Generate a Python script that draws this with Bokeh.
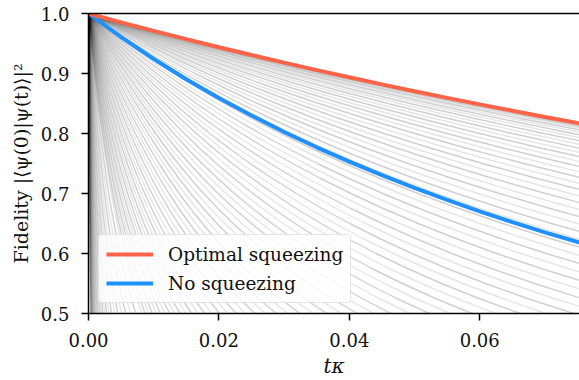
from bokeh.plotting import figure
from bokeh.models import (Range1d, FixedTicker, LinearAxis, Legend, LegendItem,
                          NumeralTickFormatter)
from bokeh.embed import file_html
from bokeh.resources import INLINE

# ---------------- data ----------------
# sample times (t*kappa) for the two highlighted curves
t_samples = [0, 0.005, 0.01, 0.015, 0.02, 0.025, 0.03, 0.035, 0.04, 0.045,
             0.05, 0.055, 0.06, 0.065, 0.07, 0.0755]
optimal_fidelity = [1.0, 0.9853, 0.9711, 0.9573, 0.9438, 0.9308, 0.9181, 0.9057,
                    0.8937, 0.8819, 0.8705, 0.8594, 0.8485, 0.8380, 0.8276, 0.8166]
nosqueeze_fidelity = [1.0, 0.9606, 0.9242, 0.8905, 0.8591, 0.8299, 0.8026, 0.7770,
                      0.7530, 0.7305, 0.7092, 0.6892, 0.6702, 0.6523, 0.6353, 0.6176]

# gray family: decay rate of each thin curve (level reached at t = profile_time / rate)
gray_rates = [
    2.971, 2.982, 3.003, 3.036, 3.079, 3.133, 3.199, 3.276, 3.365, 3.466,
    3.579, 3.706, 3.845, 3.999, 4.167, 4.350, 4.548, 4.763, 4.995, 5.246,
    5.515, 5.803, 6.113, 6.445, 6.800, 7.180, 7.585, 8.018, 8.479, 8.971,
    9.495, 10.05, 10.65, 11.28, 11.96, 12.67, 13.44, 14.25, 15.11, 16.02,
    17.00, 18.03, 19.14, 20.30, 21.55, 22.87, 24.27, 25.76, 27.34, 29.02,
    30.81, 32.70, 34.72, 36.86, 39.13, 41.54, 44.10, 46.83, 49.72, 52.78,
    56.04, 59.50, 63.18, 67.08, 71.23, 75.63, 80.30, 85.26, 90.53, 96.13,
    102.1, 108.4, 115.1,
    122.2, 137.7, 155.3, 175.1, 197.4, 222.6, 251.0, 283.0, 319.1, 359.8,
    405.6, 457.3, 515.7, 581.4, 655.5, 739.1, 833.3, 939.6, 1059, 1194,
    1347, 1518, 1712, 1930, 2176, 2454, 2767, 3119]
# common decay profile: fidelity level and normalised time (rate * t) at which it is reached
profile_fidelity = [1.0, 0.975, 0.95, 0.925, 0.9, 0.875, 0.85, 0.825, 0.8, 0.775,
                    0.75, 0.725, 0.7, 0.675, 0.65, 0.625, 0.6, 0.575, 0.55, 0.525,
                    0.5, 0.475, 0.45]
profile_time = [0, 0.02564, 0.05263, 0.08108, 0.11111, 0.14286, 0.17647, 0.21212,
                0.25, 0.29032, 0.33333, 0.37931, 0.42857, 0.48148, 0.53846, 0.6,
                0.66667, 0.73913, 0.81818, 0.90476, 1.0, 1.10526, 1.22222]

x_ticks = [0.0, 0.02, 0.04, 0.06]
y_ticks = [0.5, 0.6, 0.7, 0.8, 0.9, 1.0]
series_labels = ["Optimal squeezing", "No squeezing"]

FONT = "DejaVu Serif"
TXT = "#111111"

p = figure(width=579, height=380, output_backend="svg", toolbar_location=None,
           x_range=Range1d(0, 0.0753), y_range=Range1d(0.5, 1.0),
           min_border_left=88, min_border_right=0, min_border_top=13,
           min_border_bottom=67)
p.outline_line_color = None
p.grid.visible = False
p.background_fill_color = "white"
p.border_fill_color = "white"

# gray family
xs_dark, ys_dark, xs_light, ys_light = [], [], [], []
for i, rate in enumerate(gray_rates):
    xs = [u / rate for u in profile_time]
    if i % 2 == 0:
        xs_dark.append(xs); ys_dark.append(profile_fidelity)
    else:
        xs_light.append(xs); ys_light.append(profile_fidelity)
p.multi_line(xs_dark, ys_dark, line_color="black", line_alpha=0.19, line_width=1.4)
p.multi_line(xs_light, ys_light, line_color="black", line_alpha=0.10, line_width=1.4)

r_no = p.line(t_samples, nosqueeze_fidelity, line_color="#1E90FF", line_width=4)
r_opt = p.line(t_samples, optimal_fidelity, line_color="#FF6347", line_width=4)

# axes
for ax in (p.xaxis[0], p.yaxis[0]):
    ax.axis_line_width = 1.5
    ax.axis_line_color = "black"
    ax.major_tick_line_width = 1.5
    ax.major_tick_out = 7
    ax.major_tick_in = 0
    ax.minor_tick_line_color = None
    ax.major_label_text_font = FONT
    ax.major_label_text_font_size = "18px"
    ax.major_label_text_color = TXT
    ax.axis_label_text_font = FONT
    ax.axis_label_text_color = TXT

xa = p.xaxis[0]
xa.ticker = FixedTicker(ticks=x_ticks)
xa.formatter = NumeralTickFormatter(format="0.00")
xa.major_label_standoff = 12
xa.axis_label = "tκ"
xa.axis_label_text_font_size = "20px"
xa.axis_label_text_font_style = "italic"
xa.axis_label_standoff = 4

ya = p.yaxis[0]
ya.ticker = FixedTicker(ticks=y_ticks)
ya.formatter = NumeralTickFormatter(format="0.0")
ya.major_label_standoff = 12
ya.axis_label = "Fidelity |⟨ψ(0)|ψ(t)⟩|²"
ya.axis_label_text_font_size = "19px"
ya.axis_label_text_font_style = "normal"
ya.axis_label_standoff = 6

top = LinearAxis(ticker=FixedTicker(ticks=[]), axis_line_width=1.5,
                 axis_line_color="black", major_tick_line_color=None,
                 minor_tick_line_color=None, major_label_text_font_size="0px")
p.add_layout(top, "above")

legend = Legend(items=[LegendItem(label=series_labels[0], renderers=[r_opt]),
                       LegendItem(label=series_labels[1], renderers=[r_no])],
                location="bottom_left", margin=10, padding=7, spacing=5,
                glyph_width=47, glyph_height=24, label_standoff=15,
                label_text_font=FONT, label_text_font_size="18.5px",
                label_text_color=TXT, background_fill_color="white",
                background_fill_alpha=0.8, border_line_color="#cccccc",
                border_line_width=1.5)
if "border_radius" in Legend.properties():
    legend.border_radius = 4
p.add_layout(legend)

open("out.html", "w").write(file_html(p, INLINE))
